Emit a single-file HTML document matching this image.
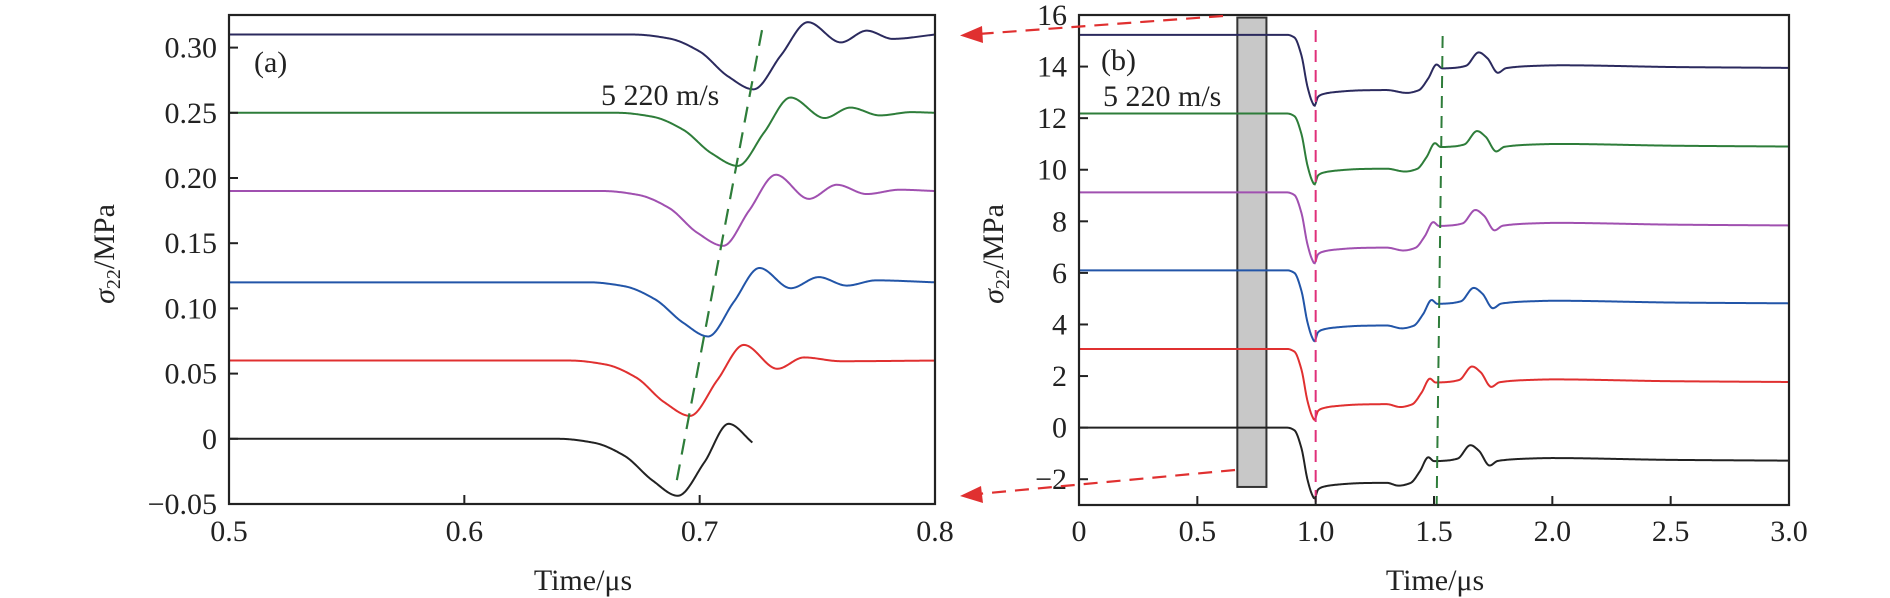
<!DOCTYPE html>
<html><head><meta charset="utf-8"><style>
html,body{margin:0;padding:0;background:#fff;}
svg{display:block;font-family:"Liberation Serif",serif;}
</style></head><body>
<svg id="chart" width="1890" height="598" viewBox="0 0 1890 598" xmlns="http://www.w3.org/2000/svg">
<g id="panelA"></g>
<g id="panelB"></g>
</svg>
<script>
// ---------- Panel (a) data ----------
const aColors = ["#222222","#e03030","#2255a8","#a050b0","#2e7d3a","#2b2a5e"];
const aNames = ["black","red","blue","purple","green","navy"];
const aT0 = [0.5,0.640,0.655,0.668,0.680,0.6907,0.702,0.7123,0.7225];
const aV0 = [0,0,-0.003,-0.013,-0.032,-0.0437,-0.018,0.0115,-0.003];
const aT1 = [0.5,0.645,0.660,0.673,0.685,0.6959,0.7075,0.7188,0.733,0.7443,0.76,0.8];
const aV1 = [0.06,0.06,0.057,0.047,0.028,0.0176,0.045,0.072,0.0537,0.0624,0.0595,0.06];
const aT2 = [0.5,0.653,0.668,0.681,0.693,0.7036,0.7145,0.7254,0.7387,0.7506,0.7625,0.775,0.8];
const aV2 = [0.12,0.12,0.117,0.107,0.089,0.0785,0.105,0.131,0.1155,0.124,0.1175,0.1215,0.12];
const aT3 = [0.5,0.659,0.674,0.687,0.699,0.71,0.721,0.7324,0.7464,0.7583,0.771,0.785,0.8];
const aV3 = [0.19,0.19,0.187,0.177,0.158,0.148,0.175,0.2025,0.184,0.1948,0.1877,0.191,0.19];
const aT4 = [0.5,0.665,0.680,0.693,0.705,0.7162,0.7274,0.7386,0.7531,0.764,0.7766,0.79,0.8];
const aV4 = [0.25,0.25,0.247,0.237,0.219,0.2093,0.235,0.2617,0.246,0.254,0.248,0.2505,0.25];
const aT5 = [0.5,0.672,0.687,0.700,0.712,0.7229,0.7345,0.746,0.76,0.771,0.782,0.8];
const aV5 = [0.31,0.31,0.307,0.297,0.278,0.268,0.294,0.3195,0.304,0.313,0.3067,0.31];
const aXTicks = [0.5,0.6,0.7,0.8];
const aXLabels = ["0.5","0.6","0.7","0.8"];
const aYTicks = [-0.05,0,0.05,0.10,0.15,0.20,0.25,0.30];
const aYLabels = ["\u22120.05","0","0.05","0.10","0.15","0.20","0.25","0.30"];
const aFitT = [0.6903,0.7265];
const aFitV = [-0.0317,0.3135];

// ---------- Panel (b) data ----------
const bBaselines = [0,3.05,6.1,9.12,12.18,15.23];
const bShifts = [0,0.007,0.014,0.021,0.028,0.035];
const bTemplT = [0,0.88,0.91,0.94,0.965,0.985,0.995,1.01,1.03,1.08,1.2,1.3,1.35,1.40,1.44,1.476,1.50,1.55,1.60,1.654,1.69,1.735,1.77,1.9,2.0,2.5,3.0];
const bTemplV = [0,0,-0.1,-0.8,-2.0,-2.6,-2.75,-2.4,-2.3,-2.22,-2.15,-2.14,-2.25,-2.15,-1.7,-1.15,-1.3,-1.28,-1.2,-0.68,-0.9,-1.47,-1.29,-1.2,-1.18,-1.25,-1.28];
const bXTicks = [0,0.5,1.0,1.5,2.0,2.5,3.0];
const bXLabels = ["0","0.5","1.0","1.5","2.0","2.5","3.0"];
const bYTicks = [-2,0,2,4,6,8,10,12,14,16];
const bYLabels = ["\u22122","0","2","4","6","8","10","12","14","16"];
const bBand = [0.669,0.792];
const bBandV = [-2.3,15.9];

const NS="http://www.w3.org/2000/svg";
function mk(tag,attrs,parent){const e=document.createElementNS(NS,tag);for(const k in attrs)e.setAttribute(k,attrs[k]);parent.appendChild(e);return e;}

const axA={x0:229,x1:935,y0:504,y1:15,tmin:0.5,tmax:0.8,vmin:-0.05,vmax:0.325};
const axB={x0:1079,x1:1789,y0:505,y1:15,tmin:0,tmax:3,vmin:-3,vmax:16};
function sx(ax,t){return ax.x0+(t-ax.tmin)/(ax.tmax-ax.tmin)*(ax.x1-ax.x0);}
function sy(ax,v){return ax.y0-(v-ax.vmin)/(ax.vmax-ax.vmin)*(ax.y0-ax.y1);}

function monotone(xs,ys){
  const n=xs.length,d=[],m=new Array(n).fill(0);
  for(let i=0;i<n-1;i++)d.push((ys[i+1]-ys[i])/(xs[i+1]-xs[i]));
  m[0]=d[0];m[n-1]=d[n-2];
  for(let i=1;i<n-1;i++){ if(d[i-1]*d[i]<=0)m[i]=0; else { const w1=2*(xs[i+1]-xs[i])+(xs[i]-xs[i-1]),w2=(xs[i+1]-xs[i])+2*(xs[i]-xs[i-1]); m[i]=(w1+w2)/(w1/d[i-1]+w2/d[i]); } }
  return function(x){
    let i=0;while(i<n-2&&x>xs[i+1])i++;
    const h=xs[i+1]-xs[i],t=(x-xs[i])/h,t2=t*t,t3=t2*t;
    return (2*t3-3*t2+1)*ys[i]+(t3-2*t2+t)*h*m[i]+(-2*t3+3*t2)*ys[i+1]+(t3-t2)*h*m[i+1];
  };
}
function curvePath(ax,ts,vs,step){
  const f=monotone(ts,vs);let d="";
  const a=ts[0],b=ts[ts.length-1];
  for(let t=a;t<=b+1e-9;t+=step){d+=(d?"L":"M")+sx(ax,t).toFixed(2)+","+sy(ax,f(t)).toFixed(2);}
  return d;
}

function drawAxes(g,ax,xt,xl,yt,yl,prefix){
  const frame=mk("rect",{x:ax.x0,y:ax.y1,width:ax.x1-ax.x0,height:ax.y0-ax.y1,fill:"none",stroke:"#222",'stroke-width':2.2},g);
  
  
  xt.forEach((t,i)=>{
    const x=sx(ax,t);
    const tk=mk("line",{x1:x,x2:x,y1:ax.y0,y2:ax.y0-9,stroke:"#222","stroke-width":2},g);
    
    
    const tx=mk("text",{x:x,y:541,"text-anchor":"middle","font-size":30,fill:"#222"},g);
    tx.textContent=xl[i];
    
    
  });
  yt.forEach((v,i)=>{
    const y=sy(ax,v);
    const tk=mk("line",{x1:ax.x0,x2:ax.x0+9,y1:y,y2:y,stroke:"#222","stroke-width":2},g);
    
    
    const tx=mk("text",{x:ax.x0-12,y:y+10,"text-anchor":"end","font-size":30,fill:"#222"},g);
    tx.textContent=yl[i];
    
    
  });
}

const gA=document.getElementById("panelA");
const aTs=[aT0,aT1,aT2,aT3,aT4,aT5],aVs=[aV0,aV1,aV2,aV3,aV4,aV5];
aTs.forEach((ts,i)=>{
  const p=mk("path",{d:curvePath(axA,ts,aVs[i],0.0004),fill:"none",stroke:aColors[i],"stroke-width":2},gA);
  
  
});
const fitA=mk("line",{x1:sx(axA,aFitT[0]),y1:sy(axA,aFitV[0]),x2:sx(axA,aFitT[1]),y2:sy(axA,aFitV[1]),stroke:"#2e7d3a","stroke-width":2.2,"stroke-dasharray":"16,10"},gA);


drawAxes(gA,axA,aXTicks,aXLabels,aYTicks,aYLabels,'a');

const gB=document.getElementById("panelB");
const band=mk("rect",{x:sx(axB,bBand[0]),y:sy(axB,bBandV[1]),width:sx(axB,bBand[1])-sx(axB,bBand[0]),height:sy(axB,bBandV[0])-sy(axB,bBandV[1]),fill:"#c8c8c8",stroke:"#333","stroke-width":2},gB);


bBaselines.forEach((b,i)=>{
  const ts=bTemplT.map(t=>t>1.3&&t<3?t+bShifts[i]:t);
  const vs=bTemplV.map(v=>v+b);
  const p=mk("path",{d:curvePath(axB,ts,vs,0.004),fill:"none",stroke:aColors[i],"stroke-width":2},gB);
  
  
});
const pinkL=mk("line",{x1:sx(axB,1.0),x2:sx(axB,1.0),y1:30,y2:axB.y0,stroke:"#e0307a","stroke-width":2,"stroke-dasharray":"12,8"},gB);


const greenL=mk("line",{x1:sx(axB,1.5365),y1:36,x2:sx(axB,1.5112),y2:axB.y0,stroke:"#2e7d3a","stroke-width":2,"stroke-dasharray":"12,8"},gB);


drawAxes(gB,axB,bXTicks,bXLabels,bYTicks,bYLabels,'b');
</script>
<script>
(function(){
const svg=document.getElementById("chart");
function mk(tag,attrs){const e=document.createElementNS("http://www.w3.org/2000/svg",tag);for(const k in attrs)e.setAttribute(k,attrs[k]);svg.appendChild(e);return e;}
const a1=mk("line",{x1:1223,y1:16,x2:978,y2:34,stroke:"#e03030","stroke-width":2.2,"stroke-dasharray":"14,9"});


const h1=mk("polygon",{points:"960,35.5 982,26 983,43",fill:"#e03030"});


const a2=mk("line",{x1:1235,y1:470,x2:978,y2:494,stroke:"#e03030","stroke-width":2.2,"stroke-dasharray":"14,9"});


const h2=mk("polygon",{points:"960,496 981,486 983,503",fill:"#e03030"});


})();
</script>
<script>
(function(){
const svg=document.getElementById("chart");
const html=`
<text x="254" y="72" font-size="30" fill="#222">(a)</text>
<text x="601" y="105" font-size="30" fill="#222">5 220 m/s</text>
<text x="1101" y="70" font-size="30" fill="#222">(b)</text>
<text x="1103" y="106" font-size="30" fill="#222">5 220 m/s</text>
<text x="583" y="590" font-size="30" fill="#222" text-anchor="middle">Time/μs</text>
<text x="1435" y="590" font-size="30" fill="#222" text-anchor="middle">Time/μs</text>
<text transform="translate(114,254) rotate(-90)" font-size="30" fill="#222" text-anchor="middle"><tspan font-style="italic">σ</tspan><tspan font-size="20" dy="6">22</tspan><tspan dy="-6">/MPa</tspan></text>
<text transform="translate(1003,254) rotate(-90)" font-size="30" fill="#222" text-anchor="middle"><tspan font-style="italic">σ</tspan><tspan font-size="20" dy="6">22</tspan><tspan dy="-6">/MPa</tspan></text>`;
const g=document.createElementNS("http://www.w3.org/2000/svg","g");


g.innerHTML=html;
svg.appendChild(g);
})();
</script>
</body></html>
